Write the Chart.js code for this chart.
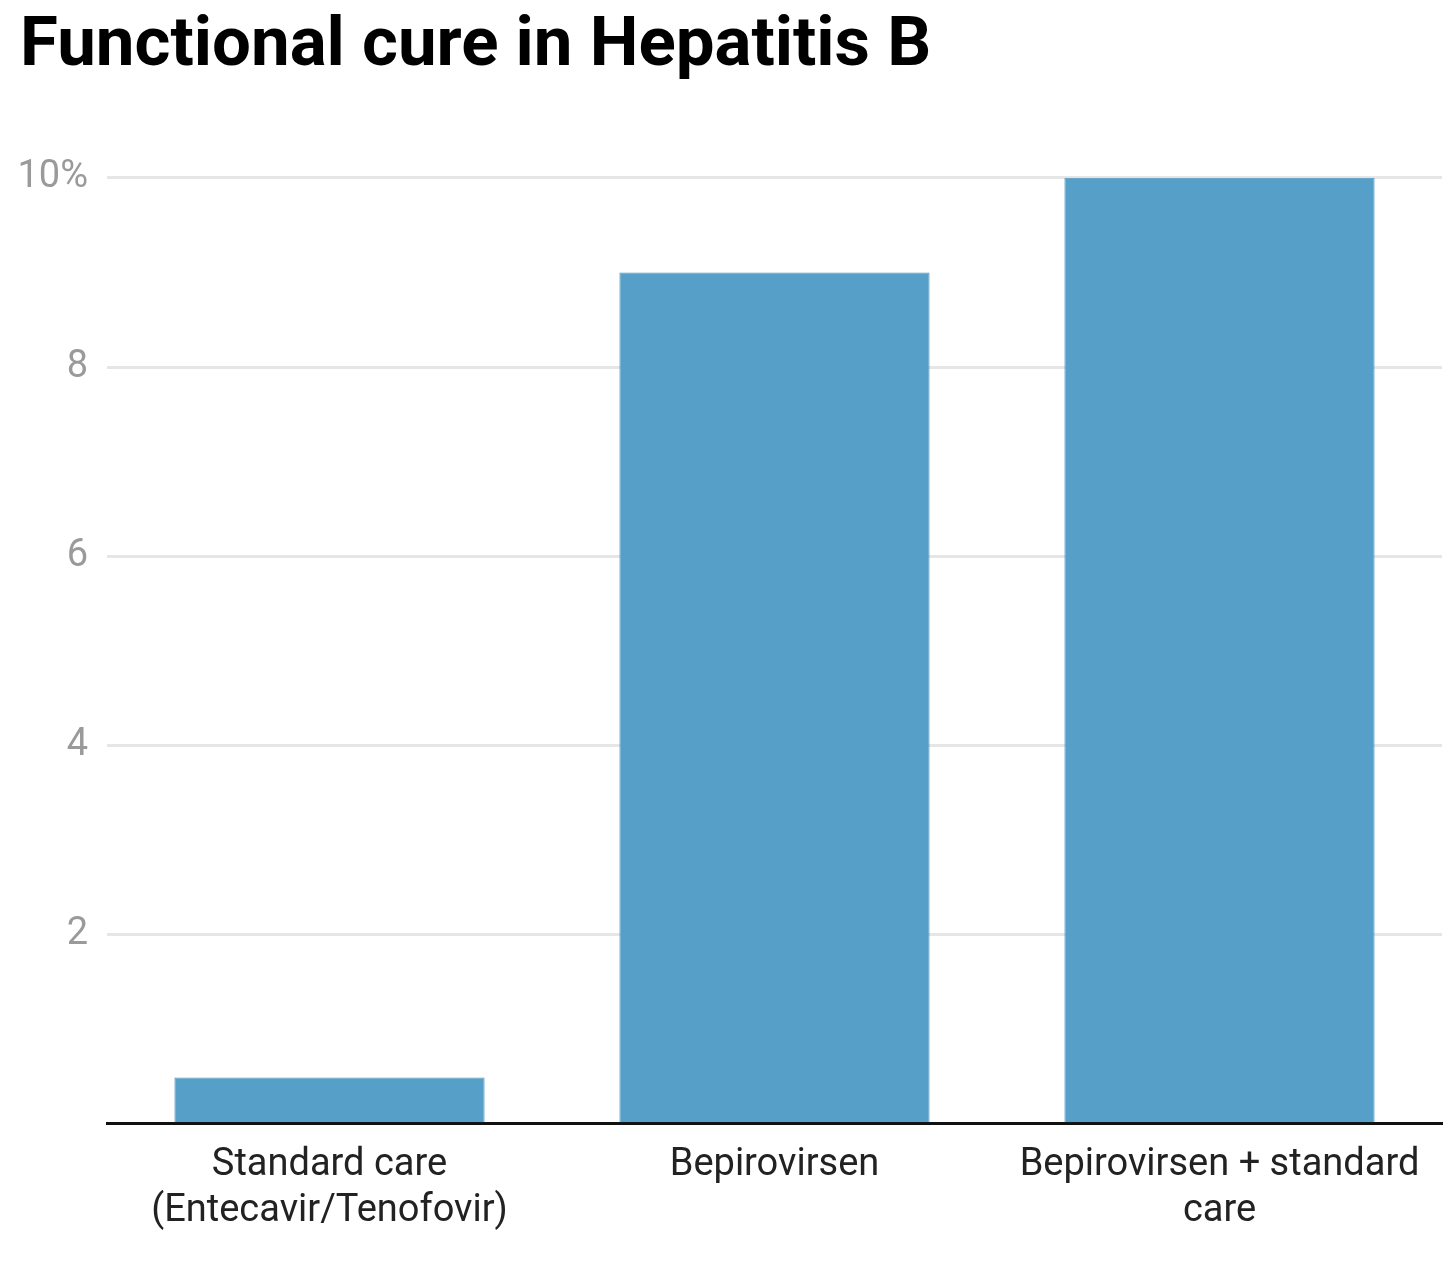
<!DOCTYPE html>
<html>
<head>
<meta charset="utf-8">
<script src="https://cdn.jsdelivr.net/npm/chart.js@4.4.0/dist/chart.umd.min.js"></script>
<style>
  html, body { margin: 0; padding: 0; background: #fff; }
  #wrap { width: 1456px; height: 1262px; }
</style>
</head>
<body>
<div id="wrap"><canvas id="cureChart"></canvas></div>
<script>
  const categories = [
    ['Standard care', '(Entecavir/Tenofovir)'],
    ['Bepirovirsen'],
    ['Bepirovirsen + standard', 'care']
  ];
  const cureRate = [0.49, 9.0, 10.0];
  const yTickValues = [0, 2, 4, 6, 8, 10];
  const yTickLabels = ['', '2', '4', '6', '8', '10%'];

  const ctx = document.getElementById('cureChart').getContext('2d');

  const chart = new Chart(ctx, {
    type: 'bar',
    data: {
      labels: categories,
      datasets: [{
        label: 'Functional cure',
        data: cureRate,
        backgroundColor: '#569fc9',
        borderColor: '#4a92c0',
        borderWidth: 1,
        barPercentage: 0.697,
        categoryPercentage: 1
      }]
    },
    options: {
      responsive: true,
      maintainAspectRatio: false,
      animation: false,
      layout: { padding: { left: 20, right: 14, top: 0, bottom: 17 } },
      plugins: {
        legend: { display: false },
        tooltip: { enabled: false },
        title: {
          display: true,
          text: 'Functional cure in Hepatitis B',
          align: 'start',
          color: '#000',
          font: { family: 'Roboto', size: 69, weight: 'bold' },
          padding: { top: 6, bottom: 89 }
        }
      },
      scales: {
        x: {
          grid: { display: false },
          border: { display: true, color: '#111', width: 3 },
          ticks: {
            color: '#222',
            font: { family: 'Roboto', size: 38 },
            padding: 11,
            maxRotation: 0,
            autoSkip: false
          }
        },
        y: {
          min: 0,
          max: 10,
          afterBuildTicks: axis => {
            axis.ticks = yTickValues.map(v => ({ value: v }));
          },
          afterFit: axis => { axis.width = 87; },
          border: { display: false },
          grid: {
            drawTicks: false,
            lineWidth: 3,
            color: c => (c.tick && c.tick.value === 0) ? 'rgba(0,0,0,0)' : '#e6e6e6'
          },
          ticks: {
            color: '#9a9a9a',
            font: { family: 'Roboto', size: 38 },
            padding: 19,
            callback: (value) => {
              const i = yTickValues.indexOf(value);
              return i >= 0 ? yTickLabels[i] : '';
            }
          }
        }
      }
    }
  });
</script>
</body>
</html>
